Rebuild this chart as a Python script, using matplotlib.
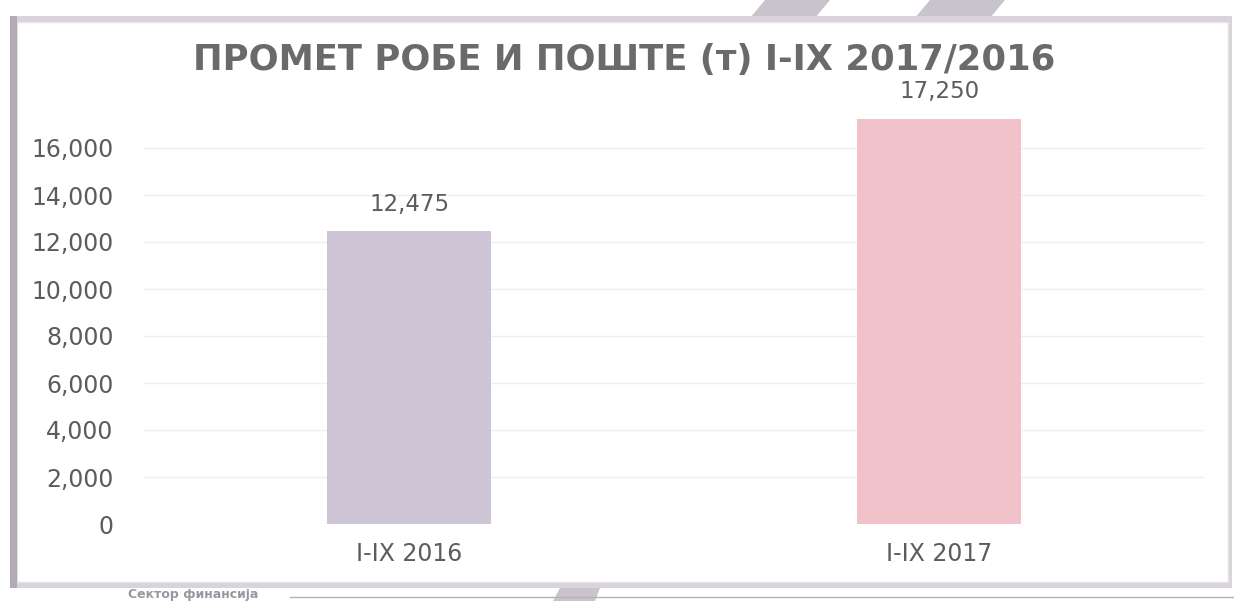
import matplotlib
matplotlib.use("Agg")
import matplotlib.pyplot as plt
from matplotlib.patches import Rectangle, Polygon
from matplotlib.ticker import FuncFormatter

categories = ["I-IX 2016", "I-IX 2017"]
values = [12475, 17250]
bar_colors = ["#cdc4d6", "#f1c2ca"]
yticks = [0, 2000, 4000, 6000, 8000, 10000, 12000, 14000, 16000]
title = "ПРОМЕТ РОБЕ И ПОШТЕ (т) I-IX 2017/2016"
footer = "Сектор финансија"

W, H = 1234, 601
fig = plt.figure(figsize=(W / 100, H / 100), dpi=100)
fig.patch.set_facecolor("white")

def fx(px):
    return px / W

def fy(py):
    return 1 - py / H

# decorative shapes (scan background)
for pts in [[(765, 0), (830, 0), (815, 18), (750, 18)],
            [(930, 0), (1005, 0), (990, 18), (915, 18)],
            [(560, 588), (600, 588), (595, 601), (553, 601)]]:
    fig.add_artist(Polygon([(fx(x), fy(y)) for x, y in pts], closed=True,
                           transform=fig.transFigure, facecolor="#c9c3cc",
                           edgecolor="none", zorder=0))

# frame with shadow
fig.add_artist(Rectangle((fx(14), fy(588)), fx(1232) - fx(14), fy(16) - fy(588),
                         transform=fig.transFigure, facecolor="#d9d4dc",
                         edgecolor="none", zorder=0.5))
fig.add_artist(Rectangle((fx(17), fy(582)), fx(1228) - fx(17), fy(22) - fy(582),
                         transform=fig.transFigure, facecolor="white",
                         edgecolor="#e6e2e8", linewidth=1, zorder=0.6))
fig.add_artist(Rectangle((fx(10), fy(588)), fx(7), fy(16) - fy(588),
                         transform=fig.transFigure, facecolor="#b2aab9",
                         edgecolor="none", zorder=0.7))

# footer
fig.text(fx(128), fy(594.5), footer, fontsize=9, color="#9a96a0",
         fontfamily="DejaVu Sans", fontweight="bold", va="center", ha="left",
         zorder=1)
fig.add_artist(plt.Line2D([fx(290), fx(1234)], [fy(597), fy(597)],
                          transform=fig.transFigure, color="#b5b0b8", lw=1))

ymax = 18000
ax = fig.add_axes([fx(144), fy(524), fx(1204) - fx(144), (524 - 101) / H])
ax.set_zorder(2)
ax.set_facecolor("none")
x = range(len(categories))
ax.bar(x, values, width=0.31, color=bar_colors, zorder=3)
ax.set_xlim(-0.5, 1.5)
ax.set_ylim(0, ymax)
ax.set_yticks(yticks)
ax.yaxis.set_major_formatter(FuncFormatter(lambda v, p: f"{int(v):,}"))
ax.set_xticks(list(x))
ax.set_xticklabels(categories)
for s in ax.spines.values():
    s.set_visible(False)
ax.tick_params(length=0, labelsize=17, labelcolor="#5c5c5c")
ax.tick_params(axis="y", pad=22)
ax.tick_params(axis="x", pad=13)
for lab in ax.get_xticklabels() + ax.get_yticklabels():
    lab.set_fontfamily("DejaVu Sans")
ax.grid(axis="y", color="#efefef", linewidth=1, zorder=0)
for xi, v in zip(x, values):
    ax.annotate(f"{v:,}", (xi, v), xytext=(0, 11), textcoords="offset points",
                ha="center", va="bottom", fontsize=16.5, color="#5c5c5c",
                fontfamily="DejaVu Sans")

fig.text(fx(624), fy(60), title, ha="center", va="center", fontsize=25.5,
         fontweight="bold", color="#6a6a6a", fontfamily="DejaVu Sans",
         zorder=3)

fig.savefig("out.png", dpi=100, facecolor="white")
